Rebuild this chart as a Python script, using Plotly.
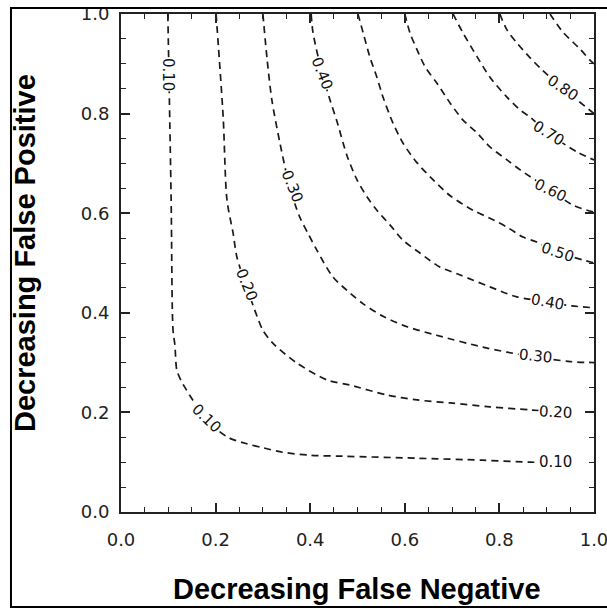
import plotly.graph_objects as go

# Contour lines (x = Decreasing False Negative, y = Decreasing False Positive)
c10_x = [0.099, 0.106, 0.110, 0.114, 0.118, 0.128, 0.145, 0.160, 0.180, 0.200, 0.228, 0.266, 0.300, 0.342, 0.400, 0.469, 0.626, 0.765, 0.865, 0.930]
c10_y = [1.000, 0.627, 0.365, 0.335, 0.285, 0.262, 0.235, 0.213, 0.189, 0.168, 0.149, 0.137, 0.129, 0.120, 0.114, 0.112, 0.108, 0.104, 0.100, 0.100]

c20_x = [0.201, 0.216, 0.224, 0.237, 0.245, 0.264, 0.288, 0.300, 0.321, 0.372, 0.436, 0.484, 0.562, 0.626, 0.696, 0.780, 0.865, 0.930]
c20_y = [1.000, 0.793, 0.627, 0.560, 0.512, 0.456, 0.392, 0.365, 0.339, 0.299, 0.265, 0.255, 0.235, 0.225, 0.219, 0.211, 0.205, 0.201]

c30_x = [0.300, 0.309, 0.319, 0.336, 0.357, 0.378, 0.395, 0.414, 0.448, 0.484, 0.512, 0.554, 0.605, 0.667, 0.765, 0.816, 0.877, 0.950, 1.000]
c30_y = [1.000, 0.908, 0.827, 0.741, 0.651, 0.592, 0.560, 0.526, 0.472, 0.440, 0.418, 0.393, 0.372, 0.355, 0.331, 0.321, 0.311, 0.302, 0.300]

c40_x = [0.402, 0.406, 0.425, 0.442, 0.457, 0.478, 0.499, 0.520, 0.541, 0.569, 0.596, 0.632, 0.674, 0.717, 0.780, 0.837, 0.900, 0.953, 1.000]
c40_y = [1.000, 0.962, 0.882, 0.827, 0.783, 0.715, 0.667, 0.633, 0.606, 0.576, 0.546, 0.520, 0.492, 0.476, 0.452, 0.432, 0.422, 0.414, 0.410]

c50_x = [0.501, 0.512, 0.526, 0.541, 0.554, 0.575, 0.596, 0.626, 0.660, 0.696, 0.744, 0.780, 0.816, 0.850, 0.879, 0.922, 1.000]
c50_y = [1.000, 0.962, 0.914, 0.873, 0.833, 0.781, 0.741, 0.701, 0.667, 0.635, 0.606, 0.590, 0.572, 0.552, 0.542, 0.522, 0.500]

c60_x = [0.600, 0.611, 0.626, 0.643, 0.668, 0.696, 0.723, 0.753, 0.780, 0.816, 0.844, 0.907, 0.956, 1.000]
c60_y = [1.000, 0.962, 0.928, 0.894, 0.861, 0.821, 0.787, 0.761, 0.733, 0.707, 0.687, 0.647, 0.616, 0.602]

c70_x = [0.702, 0.723, 0.753, 0.780, 0.816, 0.844, 0.865, 0.903, 0.964, 1.000]
c70_y = [1.000, 0.962, 0.914, 0.873, 0.833, 0.807, 0.793, 0.761, 0.723, 0.707]

c80_x = [0.801, 0.816, 0.837, 0.865, 0.890, 0.934, 1.000]
c80_y = [1.000, 0.968, 0.942, 0.912, 0.888, 0.851, 0.800]

c90_x = [0.907, 0.934, 0.970, 0.991, 1.000]
c90_y = [1.000, 0.964, 0.930, 0.908, 0.900]

# Contour labels: text, x, y, angle
label_text = ["0.10", "0.20", "0.30", "0.40", "0.50", "0.60", "0.70", "0.80",
              "0.10", "0.10", "0.20", "0.30", "0.40"]
label_x = [0.918, 0.918, 0.877, 0.901, 0.922, 0.907, 0.903, 0.934,
           0.099, 0.180, 0.266, 0.362, 0.425]
label_y = [0.100, 0.201, 0.313, 0.422, 0.522, 0.647, 0.761, 0.851,
           0.878, 0.189, 0.456, 0.655, 0.882]
label_angle = [0, 3, 6, 10, 18, 26, 32, 34,
               90, 44, 68, 68, 68]

tick_vals = [0.0, 0.2, 0.4, 0.6, 0.8, 1.0]
tick_text = ["0.0", "0.2", "0.4", "0.6", "0.8", "1.0"]

x_title = "Decreasing False Negative"
y_title = "Decreasing False Positive"

fig = go.Figure()
for cx, cy in [(c10_x, c10_y), (c20_x, c20_y), (c30_x, c30_y), (c40_x, c40_y),
               (c50_x, c50_y), (c60_x, c60_y), (c70_x, c70_y), (c80_x, c80_y),
               (c90_x, c90_y)]:
    fig.add_trace(go.Scatter(
        x=cx, y=cy, mode="lines",
        line=dict(color="#1a1a1a", width=1.7, dash="7px,5px", shape="spline", smoothing=0.8),
        hoverinfo="skip", showlegend=False, cliponaxis=True))

for t, lx, ly, a in zip(label_text, label_x, label_y, label_angle):
    fig.add_annotation(x=lx, y=ly, xref="x", yref="y", text=t, showarrow=False,
                       textangle=a, bgcolor="white", borderpad=0,
                       font=dict(family="DejaVu Sans", size=15, color="#111"))

axis_common = dict(
    range=[0, 1], tickmode="array", tickvals=tick_vals, ticktext=tick_text,
    ticks="inside", ticklen=9, tickwidth=1.5, tickcolor="#222",
    showline=True, linecolor="#222", linewidth=2, mirror="allticks",
    showgrid=False, zeroline=False, automargin=False, ticklabeloverflow="allow",
    tickfont=dict(family="DejaVu Sans", size=18, color="#222"),
    minor=dict(ticks="inside", ticklen=5, tickwidth=1.3, tickcolor="#222",
               dtick=0.05, tick0=0, showgrid=False),
)

fig.update_layout(
    width=607, height=609,
    margin=dict(l=121, r=13, t=14, b=97, autoexpand=False),
    paper_bgcolor="white", plot_bgcolor="white",
    xaxis=dict(**axis_common, ticklabelstandoff=10),
    yaxis=dict(**axis_common, ticklabelstandoff=6),
    showlegend=False,
)

fig.add_annotation(x=0.499, y=-0.155, xref="paper", yref="paper", text="<b>" + x_title + "</b>",
                   showarrow=False, xanchor="center", yanchor="middle",
                   font=dict(family="Liberation Sans, Arial", size=29, color="black"))
fig.add_annotation(x=-0.203, y=0.52, xref="paper", yref="paper", text="<b>" + y_title + "</b>",
                   showarrow=False, xanchor="center", yanchor="middle", textangle=-90,
                   font=dict(family="Liberation Sans, Arial", size=29, color="black"))

fig.add_shape(type="rect", xref="paper", yref="paper",
              x0=-0.2326, x1=1.04, y0=-0.1908, y1=1.012,
              line=dict(color="black", width=2), fillcolor="rgba(0,0,0,0)", layer="above")

fig.write_html("out.html")
